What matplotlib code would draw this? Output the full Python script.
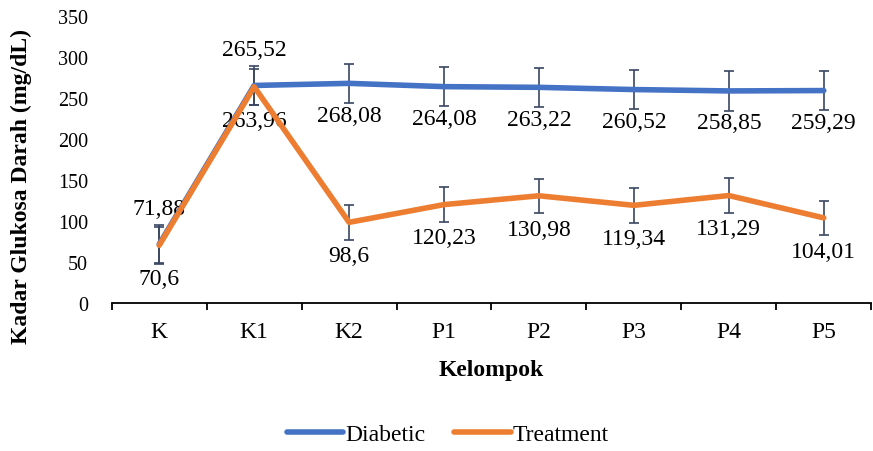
import matplotlib
matplotlib.use('Agg')
import matplotlib.pyplot as plt

plt.rcParams['font.family'] = ['Liberation Serif', 'DejaVu Serif']

groups = ['K', 'K1', 'K2', 'P1', 'P2', 'P3', 'P4', 'P5']
diabetic = [71.88, 265.52, 268.08, 264.08, 263.22, 260.52, 258.85, 259.29]
treatment = [70.6, 263.96, 98.6, 120.23, 130.98, 119.34, 131.29, 104.01]
diabetic_err = [24, 24, 24, 24, 24, 24, 24, 24]
treatment_err = [22, 22, 21, 21, 21, 21, 21, 21]

blue = '#4472C4'
orange = '#ED7D31'
errc = '#3A4660'


def fmt(v):
    s = '{:.2f}'.format(v).rstrip('0').rstrip('.')
    return s.replace('.', ',')


fig = plt.figure(figsize=(8.73, 4.52), dpi=100)
ax = fig.add_axes([0.128, 0.327, 0.870, 0.635])

x = list(range(len(groups)))

ax.errorbar(x, diabetic, yerr=diabetic_err, fmt='none', ecolor=errc,
            elinewidth=1.2, capsize=3.6, capthick=1.2, zorder=2)
ax.errorbar(x, treatment, yerr=treatment_err, fmt='none', ecolor=errc,
            elinewidth=1.2, capsize=3.6, capthick=1.2, zorder=2)
ax.plot(x, diabetic, '-', color=blue, lw=4, solid_capstyle='round',
        label='Diabetic', zorder=3)
ax.plot(x, treatment, '-', color=orange, lw=4, solid_capstyle='round',
        label='Treatment', zorder=4)

# data labels
for i in x:
    dy = 26 if i <= 1 else -23
    ax.annotate(fmt(diabetic[i]), (i, diabetic[i]), xytext=(0, dy),
                textcoords='offset points', ha='center', va='center', fontsize=17)
    ax.annotate(fmt(treatment[i]), (i, treatment[i]), xytext=(0, -24),
                textcoords='offset points', ha='center', va='center', fontsize=17)

ax.set_xlim(-0.5, 7.5)
ax.set_ylim(0, 350)
ax.set_yticks(range(0, 351, 50))
ax.set_xticks(x)
ax.set_xticklabels(groups)
ax.set_xticks([i + 0.5 for i in range(-1, 8)], minor=True)
ax.tick_params(axis='x', which='major', length=0, pad=13, labelsize=17)
ax.tick_params(axis='x', which='minor', length=5, width=1.3, direction='out')
ax.tick_params(axis='y', length=0, labelsize=14.5, pad=17)

for s in ['top', 'right', 'left']:
    ax.spines[s].set_visible(False)
ax.spines['bottom'].set_linewidth(1.3)

ax.set_xlabel('Kelompok', fontsize=17, fontweight='bold', labelpad=12)
ax.set_ylabel('Kadar Glukosa Darah (mg/dL)', fontsize=17, fontweight='bold')
ax.yaxis.set_label_coords(-0.105, 0.41)

fig.legend(loc='center', bbox_to_anchor=(0.513, 0.037), ncol=2, frameon=False,
           fontsize=17, handlelength=2.4, columnspacing=1.2, handletextpad=0.1)

fig.savefig('out.png', dpi=100)
